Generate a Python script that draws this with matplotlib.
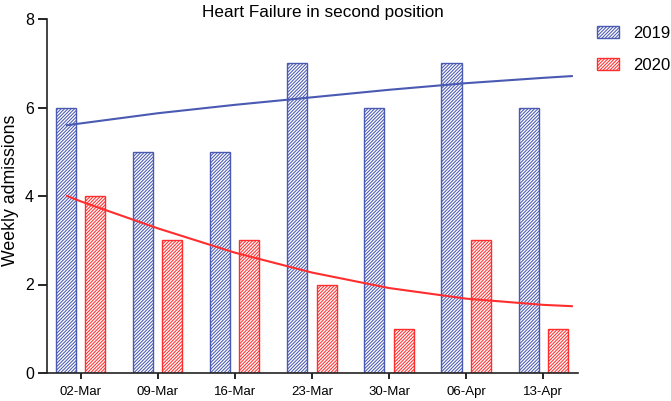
import matplotlib
matplotlib.use("Agg")
import matplotlib.pyplot as plt
import numpy as np
from matplotlib.patches import Patch

plt.rcParams['font.family'] = ['Liberation Sans', 'DejaVu Sans']
plt.rcParams['hatch.linewidth'] = 0.75

categories = ["02-Mar", "09-Mar", "16-Mar", "23-Mar", "30-Mar", "06-Apr", "13-Apr"]
values_2019 = [6, 5, 5, 7, 6, 7, 6]
values_2020 = [4, 3, 3, 2, 1, 3, 1]

# trend curves (x in category index units)
trend_x = [-0.175, 0, 1, 2, 3, 4, 5, 6, 6.37]
trend_2019 = [5.60, 5.64, 5.87, 6.06, 6.23, 6.40, 6.55, 6.67, 6.71]
trend_2020 = [4.00, 3.88, 3.27, 2.72, 2.27, 1.92, 1.68, 1.54, 1.51]

blue = "#4a5ab2"
red = "#ff2e2e"
HATCH = "//////////"

fig = plt.figure(figsize=(6.71, 4.01), dpi=100)
ax = fig.add_axes([47/671, 28/401, (578-47)/671, (373-19)/401])

x = np.arange(len(categories))
w = 0.26
off = 0.19
ax.bar(x - off, values_2019, width=w, facecolor="white", edgecolor=blue,
       hatch=HATCH, linewidth=1.0, zorder=2)
ax.bar(x + off, values_2020, width=w, facecolor="white", edgecolor=red,
       hatch=HATCH, linewidth=1.0, zorder=2)

ax.plot(trend_x, trend_2019, color=blue, lw=1.5, zorder=3)
ax.plot(trend_x, trend_2020, color=red, lw=1.5, zorder=3)

ax.set_xlim(-0.435, 6.45)
ax.set_ylim(0, 8)
ax.set_yticks([0, 2, 4, 6, 8])
ax.set_xticks(x)
ax.set_xticklabels(categories)
ax.tick_params(axis='x', labelsize=9.5, length=4.5, width=1.2, pad=5)
ax.tick_params(axis='y', labelsize=11.5, length=6.5, width=1.2, pad=3)
for s in ['top', 'right']:
    ax.spines[s].set_visible(False)
for s in ['left', 'bottom']:
    ax.spines[s].set_linewidth(1.2)
    ax.spines[s].set_color("#222222")

ax.set_ylabel("Weekly admissions", fontsize=12.8)
ax.yaxis.set_label_coords(-0.053, 0.517)
fig.text(323/671, 1 - 12/401, "Heart Failure in second position", ha='center',
         va='center', fontsize=12.3)

handles = [Patch(facecolor="white", edgecolor=blue, hatch=HATCH, linewidth=1.0),
           Patch(facecolor="white", edgecolor=red, hatch=HATCH, linewidth=1.0)]
fig.legend(handles, ["2019", "2020"], loc='upper left',
           bbox_to_anchor=(597/671, 1 - 26/401), frameon=False, fontsize=12,
           handlelength=1.3, handleheight=0.72, handletextpad=0.85,
           labelspacing=1.0, borderpad=0, borderaxespad=0)

fig.savefig("out.png", dpi=100)
